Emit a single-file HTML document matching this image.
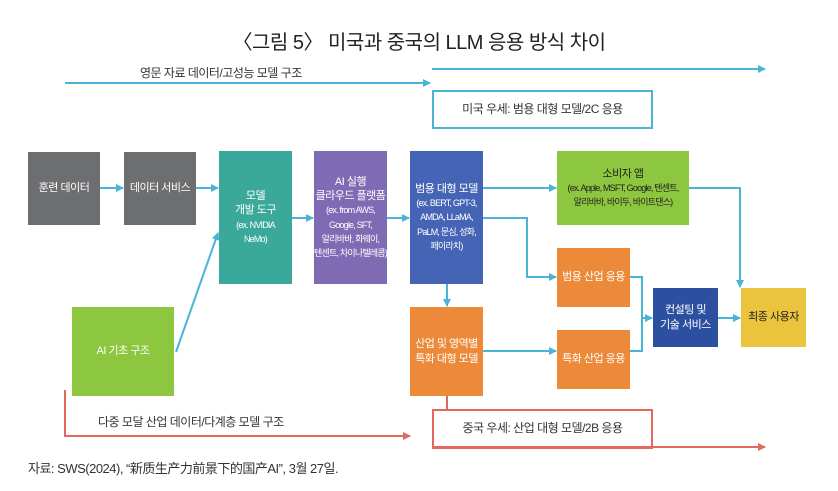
<!DOCTYPE html><html><head><meta charset="utf-8"><style>
body{margin:0;width:838px;height:491px;background:#fff;position:relative;overflow:hidden;font-family:"Liberation Sans","Noto Sans CJK KR",sans-serif;}
.b{position:absolute;display:flex;align-items:center;justify-content:center;text-align:center;color:#fff;font-size:11px;line-height:1.3;letter-spacing:-0.5px}
.s{font-size:9px;line-height:1.35;letter-spacing:-0.8px;white-space:nowrap}
.t{position:absolute;color:#333;white-space:nowrap;letter-spacing:-0.5px}
</style></head><body>
<div class="t" style="left:0;width:838px;text-align:center;top:26px;font-size:20px;color:#222">〈그림 5〉 미국과 중국의 LLM 응용 방식 차이</div>
<div class="t" style="left:140px;top:64px;font-size:12px">영문 자료 데이터/고성능 모델 구조</div>
<div class="t" style="left:98px;top:413px;font-size:12px">다중 모달 산업 데이터/다계층 모델 구조</div>
<div class="t" style="left:28px;top:458px;font-size:13px">자료: SWS(2024), “新质生产力前景下的国产AI”, 3월 27일.</div>
<div class="b" style="left:432px;top:90px;width:217px;height:35px;border:2px solid #4bb3d6;color:#333;font-size:12px">미국 우세: 범용 대형 모델/2C 응용</div>
<div class="b" style="left:432px;top:409px;width:217px;height:36px;border:2px solid #e06a5c;color:#333;font-size:12px">중국 우세: 산업 대형 모델/2B 응용</div>
<div class="b" style="left:28px;top:152px;width:72px;height:73px;background:#6d6e70">훈련 데이터</div>
<div class="b" style="left:124px;top:152px;width:72px;height:73px;background:#6d6e70">데이터 서비스</div>
<div class="b" style="left:219px;top:151px;width:73px;height:133px;background:#3aa89b"><div>모델<br>개발 도구<br><span class="s">(ex. NVIDIA<br>NeMo)</span></div></div>
<div class="b" style="left:314px;top:151px;width:73px;height:133px;background:#7e6bb4"><div>AI 실행<br>클라우드 플랫폼<br><span class="s">(ex. from AWS,<br>Google, SFT,<br>알리바바, 화웨이,<br>텐센트, 차이나텔레콤)</span></div></div>
<div class="b" style="left:410px;top:151px;width:73px;height:133px;background:#4564b6"><div>범용 대형 모델<br><span class="s">(ex. BERT, GPT-3,<br>AMDA, LLaMA,<br>PaLM, 문심, 성화,<br>페이라치)</span></div></div>
<div class="b" style="left:557px;top:151px;width:132px;height:74px;background:#8dc63f;color:#222"><div>소비자 앱<br><span class="s">(ex. Apple, MSFT, Google, 텐센트,<br>알리바바, 바이두, 바이트댄스)</span></div></div>
<div class="b" style="left:557px;top:248px;width:73px;height:59px;background:#ec8a3a">범용 산업 응용</div>
<div class="b" style="left:410px;top:307px;width:73px;height:89px;background:#ec8a3a">산업 및 영역별<br>특화 대형 모델</div>
<div class="b" style="left:557px;top:330px;width:73px;height:59px;background:#ec8a3a">특화 산업 응용</div>
<div class="b" style="left:653px;top:288px;width:65px;height:59px;background:#2c4fa0">컨설팅 및<br>기술 서비스</div>
<div class="b" style="left:741px;top:288px;width:65px;height:59px;background:#eac43c;color:#222">최종 사용자</div>
<div class="b" style="left:72px;top:307px;width:102px;height:89px;background:#8dc63f">AI 기초 구조</div>
<svg width="838" height="491" style="position:absolute;left:0;top:0" fill="none" stroke-width="2">
<defs><marker id="a" markerWidth="8" markerHeight="8" refX="7" refY="4" orient="auto" markerUnits="userSpaceOnUse"><path d="M0,0L8,4L0,8z" fill="#4bb3d6" stroke="none"/></marker>
<marker id="r" markerWidth="8" markerHeight="8" refX="7" refY="4" orient="auto" markerUnits="userSpaceOnUse"><path d="M0,0L8,4L0,8z" fill="#e06a5c" stroke="none"/></marker></defs>
<g stroke="#4bb3d6">
<path d="M630 277H642V351H630"/>
</g>
<g stroke="#4bb3d6" marker-end="url(#a)">
<path d="M65 83H430"/><path d="M432 69H765"/>
<path d="M100 188H123"/><path d="M196 188H218"/>
<path d="M176 352L218 233"/>
<path d="M292 218H313"/><path d="M387 218H409"/>
<path d="M483 188H556"/><path d="M483 218H527V277H556"/>
<path d="M447 284V306"/><path d="M483 351H556"/>
<path d="M689 188H740V287"/>
<path d="M642 318H652"/>
<path d="M718 318H740"/>
</g>
<g stroke="#e06a5c">
<path d="M65 390V436H410" marker-end="url(#r)"/>
<path d="M447 396V409"/>
<path d="M432 447H765" marker-end="url(#r)"/>
</g>
</svg>
</body></html>
